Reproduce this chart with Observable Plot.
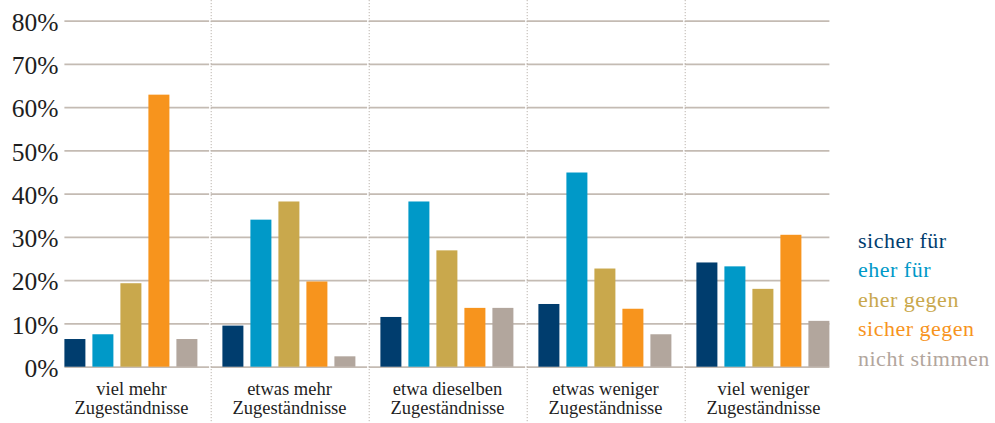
<!DOCTYPE html>
<html><head><meta charset="utf-8">
<script src="https://cdn.jsdelivr.net/npm/d3@7"></script>
<script src="https://cdn.jsdelivr.net/npm/@observablehq/plot@0.6"></script>
<style>
html,body{margin:0;padding:0;background:#fff;}
#wrap{position:relative;width:995px;height:423px;font-family:"Liberation Serif","DejaVu Serif","Times New Roman",serif;}
#legend{position:absolute;left:858px;top:226px;font-size:22px;line-height:29.4px;letter-spacing:0.5px;white-space:nowrap;}
</style></head><body><div id="wrap"><div id="chart"></div><div id="legend"></div></div>
<script>
const groups = ["viel mehr\nZugeständnisse", "etwas mehr\nZugeständnisse", "etwa dieselben\nZugeständnisse", "etwas weniger\nZugeständnisse", "viel weniger\nZugeständnisse"];
const series = ["sicher für", "eher für", "eher gegen", "sicher gegen", "nicht stimmen"];
const sicherFuer   = [6.4, 9.5, 11.5, 14.5, 24.1];
const eherFuer     = [7.5, 34.0, 38.2, 44.9, 23.2];
const eherGegen    = [19.3, 38.2, 26.9, 22.7, 18.0];
const sicherGegen  = [62.9, 19.7, 13.6, 13.4, 30.5];
const nichtStimmen = [6.4, 2.4, 13.6, 7.5, 10.6];
const colors = ["#003d6e", "#0099c8", "#c9a84c", "#f7941d", "#b2a69d"];
const yTicks = [0, 10, 20, 30, 40, 50, 60, 70, 80];

const valuesBySeries = [sicherFuer, eherFuer, eherGegen, sicherGegen, nichtStimmen];
const data = groups.flatMap((g, gi) => series.map((s, si) => ({group: g, series: s, value: valuesBySeries[si][gi]})));

const W = 995, H = 423, mL = 50.6, mR = 150.6, mT = 20.7, mB = 56.3;
const pIn = 0.266, pOut = 0.41;
const facetW = (W - mL - mR) / groups.length;
const step = facetW / (series.length - pIn + 2 * pOut);
const outer = pOut * step;
const sepDx = -(outer + step * (1 - pIn) / 2);

const grid = groups.map((g, gi) => yTicks.map(t => ({group: g, tick: t, gi}))).flat();
const gridStyle = {stroke: "#c4bbb3", strokeWidth: 1.7, x1: () => series[0], x2: () => series[series.length - 1]};
const nG = groups.length;
const FONT = '"Liberation Serif","DejaVu Serif","Times New Roman",serif';

const chart = Plot.plot({
  width: W, height: H, marginLeft: mL, marginRight: mR, marginTop: mT, marginBottom: mB,
  style: {fontFamily: FONT, background: "transparent", color: "#1e1e1e", overflow: "visible"},
  fx: {domain: groups, padding: 0, label: null},
  x: {domain: series, paddingInner: pIn, paddingOuter: pOut, axis: null},
  y: {domain: [0, 80], label: null},
  color: {domain: series, range: colors},
  marks: [
    Plot.ruleY(grid.filter(d => d.gi > 0 && d.gi < nG - 1), {fx: "group", y: "tick", ...gridStyle, insetLeft: -outer, insetRight: -outer}),
    Plot.ruleY(grid.filter(d => d.gi === 0), {fx: "group", y: "tick", ...gridStyle, insetRight: -outer}),
    Plot.ruleY(grid.filter(d => d.gi === nG - 1), {fx: "group", y: "tick", ...gridStyle, insetLeft: -outer}),
    Plot.ruleX(groups.slice(1), {fx: d => d, x: () => series[0], dx: sepDx, insetTop: -mT, insetBottom: -mB, stroke: "#bcb4ad", strokeDasharray: "1.2,1.8"}),
    Plot.barY(data, {fx: "group", x: "series", y: "value", fill: "series"}),
    Plot.axisY({ticks: yTicks, tickFormat: d => d + "%", tickSize: 0, tickPadding: 0, dx: 6, dy: 1.5, fontSize: 25.5, label: null}),
    Plot.axisFx({anchor: "bottom", tickSize: 0, tickPadding: 15, fontSize: 18.5, lineHeight: 1, label: null})
  ]
});
document.getElementById("chart").append(chart);

const legend = document.getElementById("legend");
series.forEach((s, i) => {
  const d = document.createElement("div");
  d.textContent = s;
  d.style.color = colors[i];
  legend.append(d);
});
</script></body></html>
